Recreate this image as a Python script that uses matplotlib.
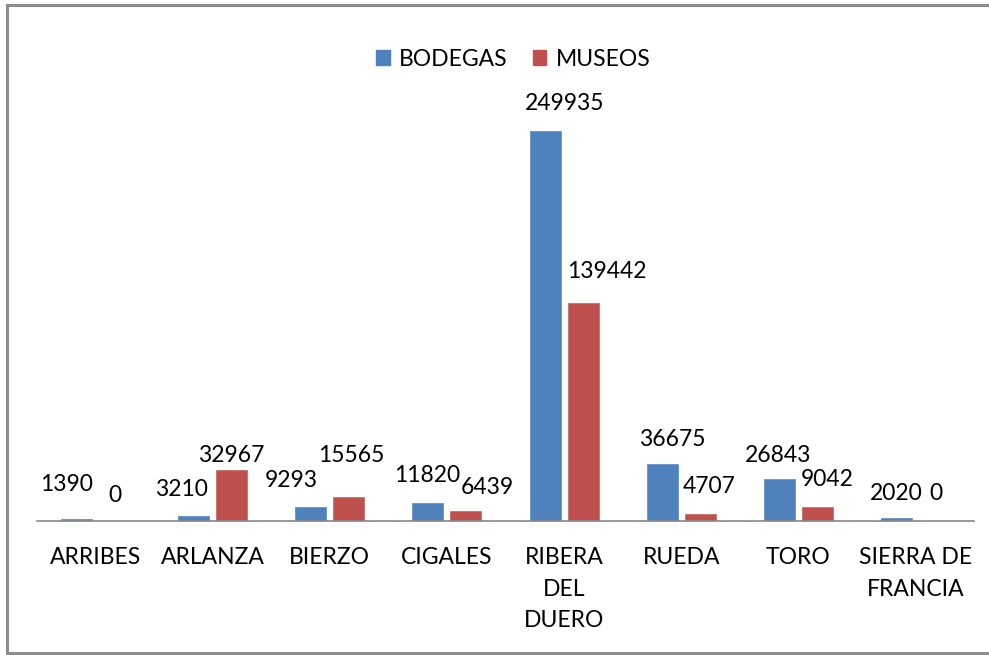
import matplotlib
matplotlib.use("Agg")
import matplotlib.pyplot as plt
import numpy as np
from matplotlib.lines import Line2D

categories = ["ARRIBES", "ARLANZA", "BIERZO", "CIGALES", "RIBERA\nDEL\nDUERO",
              "RUEDA", "TORO", "SIERRA DE\nFRANCIA"]
bodegas = [1390, 3210, 9293, 11820, 249935, 36675, 26843, 2020]
museos = [0, 32967, 15565, 6439, 139442, 4707, 9042, 0]

# label offsets (pixels) relative to bar top centre
bod_dx = [-10, -12, -20, -1, 20, 10, -1, 0]
bod_dy = [34, 26, 26, 27, 28, 24, 24, 24]
mus_dx = [0, 0, 3, 21, 24, 9, 10, 2]
mus_dy = [25, 14, 41, 23, 32, 27, 27, 27]

BLUE = "#4F81BD"
RED = "#C0504D"
FONT = "Lato"
FS = 16.5

plt.rcParams["font.family"] = [FONT, "DejaVu Sans"]

W, H = 989, 655
fig = plt.figure(figsize=(W / 100, H / 100), dpi=100)
ax = fig.add_axes([37 / W, (H - 521) / H, (974 - 37) / W, (521 - 53) / H])

x = np.arange(len(categories))
bw = 0.265
off = 0.162
ax.bar(x - off, bodegas, bw, color=BLUE, edgecolor="#5A8AC6", linewidth=0.5)
ax.bar(x + off, museos, bw, color=RED, edgecolor="#C86461", linewidth=0.5)

for i in range(len(categories)):
    ax.annotate(str(bodegas[i]), (x[i] - off, bodegas[i]), xytext=(bod_dx[i], bod_dy[i]),
                textcoords="offset pixels", ha="center", va="center", fontsize=FS)
    ax.annotate(str(museos[i]), (x[i] + off, museos[i]), xytext=(mus_dx[i], mus_dy[i]),
                textcoords="offset pixels", ha="center", va="center", fontsize=FS)

ax.set_xlim(-0.5, len(categories) - 0.5)
ax.set_ylim(0, 300000)
for s in ["top", "right", "left"]:
    ax.spines[s].set_visible(False)
ax.spines["bottom"].set_color("#868686")
ax.spines["bottom"].set_linewidth(1.2)
ax.set_yticks([])
ax.set_xticks(x)
ax.set_xticklabels(categories, fontsize=FS, linespacing=1.64, va="top")
ax.tick_params(axis="x", length=0, pad=18.5)

# legend
handles = [plt.Rectangle((0, 0), 1, 1, color=BLUE), plt.Rectangle((0, 0), 1, 1, color=RED)]
fig.legend(handles, ["BODEGAS", "MUSEOS"], loc="center", bbox_to_anchor=(513 / W, 1 - 59 / H),
           ncol=2, frameon=False, fontsize=FS, handlelength=0.6, handleheight=0.6,
           handletextpad=0.4, columnspacing=1.1)

# outer frame
fc = "#8C8C8C"
fig.add_artist(Line2D([7 / W, 7 / W], [1 - 653 / H, 1 - 5 / H], color=fc, lw=2.2, transform=fig.transFigure))
fig.add_artist(Line2D([7 / W, 1], [1 - 5 / H, 1 - 5 / H], color=fc, lw=2.2, transform=fig.transFigure))
fig.add_artist(Line2D([7 / W, 1], [1 - 653 / H, 1 - 653 / H], color=fc, lw=2.2, transform=fig.transFigure))

fig.savefig("out.png", dpi=100, facecolor="white")
